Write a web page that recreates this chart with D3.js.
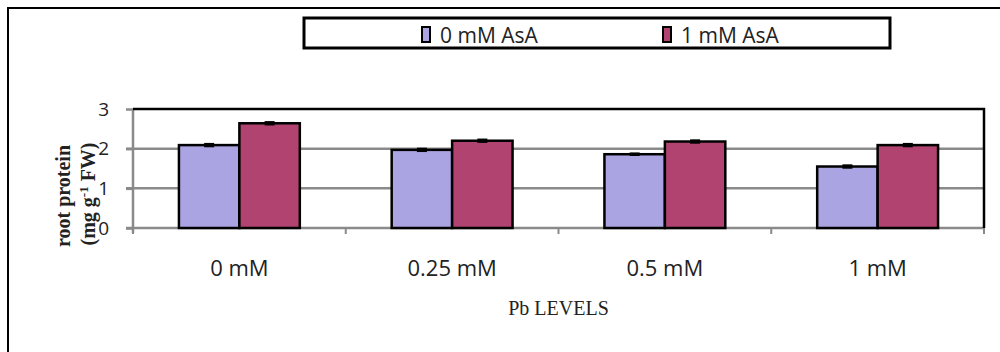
<!DOCTYPE html>
<html><head><meta charset="utf-8">
<script src="https://cdn.jsdelivr.net/npm/d3@7"></script>
<style>body{margin:0;background:#fff}svg{display:block}</style>
</head><body>
<svg id="c" width="1000" height="352"></svg>
<script>
const categories = ["0 mM", "0.25 mM", "0.5 mM", "1 mM"];
const seriesNames = ["0 mM AsA", "1 mM AsA"];
const values0 = [2.09, 1.97, 1.86, 1.55];
const values1 = [2.64, 2.20, 2.18, 2.09];
const errors0 = [0.03, 0.03, 0.02, 0.03];
const errors1 = [0.03, 0.03, 0.03, 0.03];
const yTicks = [0, 1, 2, 3];
const colors = ["#aaa5e2", "#b0436f"];

const series = [values0, values1];
const errs = [errors0, errors1];
const svg = d3.select("#c");

// outer frame
svg.append("path").attr("d","M8,352V8H1000").attr("fill","none").attr("stroke","#000").attr("stroke-width",2);

const pL = 133, pR = 984, pT = 109, pB = 228;
const y = d3.scaleLinear().domain([0,3]).range([pB, pT]);
const x0 = d3.scaleBand().domain(categories).range([pL, pR]).padding(0);
const x1 = d3.scaleBand().domain(seriesNames).range([0, x0.bandwidth()]).paddingInner(0).paddingOuter(0.76);

// gridlines
svg.append("g").selectAll("line").data(yTicks.filter(t=>t>0 && t<3)).join("line")
  .attr("x1", pL-7).attr("x2", pR).attr("y1", d=>y(d)).attr("y2", d=>y(d))
  .attr("stroke","#8a8a8a").attr("stroke-width",2.5);

// y axis
const ya = svg.append("g").attr("transform",`translate(${pL},0)`)
  .call(d3.axisLeft(y).tickValues(yTicks).tickSize(7).tickPadding(17).tickFormat(d3.format("d")));
ya.select(".domain").attr("stroke","#8a8a8a").attr("stroke-width",2.5).attr("d",`M0,${pT}V${pB+5}`);
ya.selectAll(".tick line").attr("stroke","#8a8a8a").attr("stroke-width",2.5);
ya.selectAll("text").attr("font-family","Open Sans").attr("font-size",19).attr("fill","#222");

// x axis
const xa = svg.append("g").attr("transform",`translate(0,${pB})`)
  .call(d3.axisBottom(x0).tickSize(0).tickPadding(32));
xa.select(".domain").attr("stroke","#8a8a8a").attr("stroke-width",2.5).attr("d",`M${pL-7},0H${pR}`);
xa.selectAll("text").attr("font-family","Open Sans").attr("font-size",22).attr("fill","#222");
// category separator ticks
const bounds = categories.map(c=>x0(c)).concat([pR]);
svg.append("g").selectAll("line").data(bounds).join("line")
  .attr("x1",d=>d).attr("x2",d=>d).attr("y1",pB).attr("y2",pB+6)
  .attr("stroke","#8a8a8a").attr("stroke-width",2);

// plot border top & right
svg.append("path").attr("d",`M${pL},${pT}H${pR}V${pB}`).attr("fill","none").attr("stroke","#000").attr("stroke-width",2.5);

// bars
const g = svg.append("g");
categories.forEach((c,i)=>{
  seriesNames.forEach((s,j)=>{
    const v = series[j][i];
    g.append("rect").attr("x", x0(c)+x1(s)).attr("y", y(v))
      .attr("width", x1.bandwidth()).attr("height", y(0)-y(v))
      .attr("fill", colors[j]).attr("stroke","#000").attr("stroke-width",2.5);
    const cx = x0(c)+x1(s)+x1.bandwidth()/2;
    const e = errs[j][i];
    g.append("line").attr("x1",cx).attr("x2",cx).attr("y1",y(v+e)).attr("y2",y(v-e)).attr("stroke","#000").attr("stroke-width",2);
    g.append("line").attr("x1",cx-5).attr("x2",cx+5).attr("y1",y(v+e)).attr("y2",y(v+e)).attr("stroke","#000").attr("stroke-width",2);
    g.append("line").attr("x1",cx-5).attr("x2",cx+5).attr("y1",y(v-e)).attr("y2",y(v-e)).attr("stroke","#000").attr("stroke-width",2);
  });
});

// x title
svg.append("text").attr("x",(pL+pR)/2).attr("y",315).attr("text-anchor","middle")
  .attr("font-family","Liberation Serif").attr("font-size",20).attr("fill","#222").text("Pb LEVELS");

// y title
const yt = svg.append("text").attr("transform","translate(70,196) rotate(-90)").attr("text-anchor","middle")
  .attr("font-family","Liberation Serif").attr("font-weight","bold").attr("font-size",20).attr("fill","#222");
yt.append("tspan").text("root protein");
const l2 = svg.append("text").attr("transform","translate(95,194) rotate(-90)").attr("text-anchor","middle")
  .attr("font-family","Liberation Serif").attr("font-weight","bold").attr("font-size",20).attr("fill","#222");
l2.append("tspan").text("(mg g");
l2.append("tspan").attr("baseline-shift","super").attr("font-size",13).text("-1");
l2.append("tspan").text(" FW)");

// legend
svg.append("rect").attr("x",304).attr("y",18).attr("width",586).attr("height",30).attr("fill","#fff").attr("stroke","#000").attr("stroke-width",3);
const legX = [422, 663];
seriesNames.forEach((s,j)=>{
  svg.append("rect").attr("x",legX[j]).attr("y",27).attr("width",8).attr("height",15).attr("fill",colors[j]).attr("stroke","#000").attr("stroke-width",2);
  svg.append("text").attr("x",legX[j]+18).attr("y",43).attr("font-family","Open Sans").attr("font-size",21).attr("fill","#222").text(s);
});
</script>
</body></html>
